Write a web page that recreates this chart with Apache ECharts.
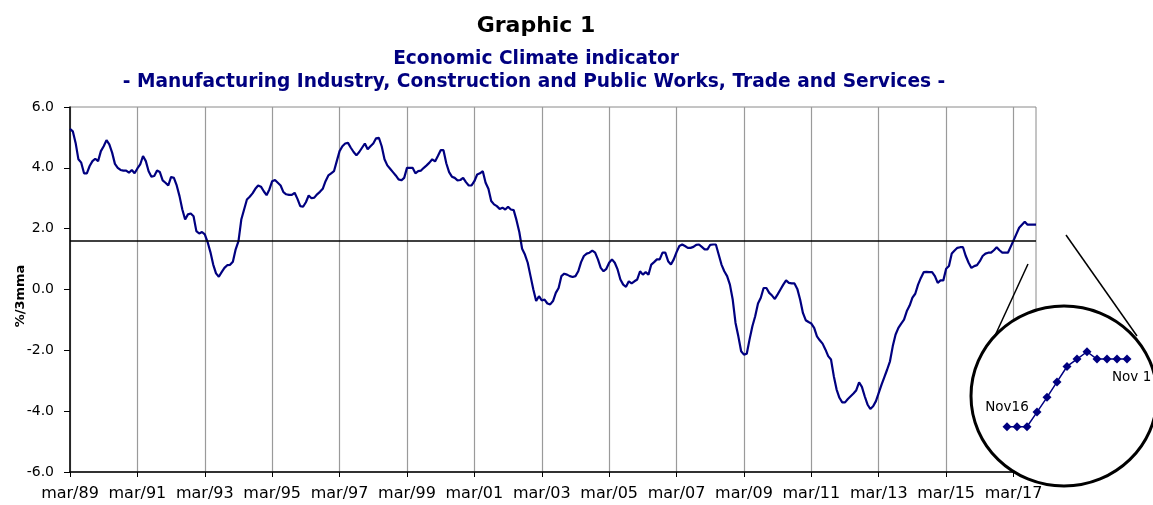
<!DOCTYPE html>
<html>
<head>
<meta charset="utf-8">
<title>Economic Climate indicator</title>
<script src="https://cdn.jsdelivr.net/npm/echarts@6/dist/echarts.min.js"></script>
<style>
  html, body { margin: 0; padding: 0; background: #fff; }
  #chart { width: 1153px; height: 505px; }
</style>
</head>
<body>
<div id="chart"></div>
<script>
// Economic climate indicator, %/3mma, monthly from mar/89 to nov/17 (one row per year)
const indicator = [
  5.28, 5.2, 4.82, 4.28, 4.17, 3.82, 3.82, 4.06, 4.22, 4.3,              // 1989 (mar-dec)
  4.22, 4.55, 4.71, 4.91, 4.77, 4.5, 4.13, 4.0, 3.93, 3.91, 3.91, 3.84,   // 1990
  3.93, 3.82, 3.98, 4.11, 4.39, 4.22, 3.89, 3.71, 3.73, 3.91, 3.86, 3.59, // 1991
  3.51, 3.42, 3.7, 3.67, 3.42, 3.07, 2.63, 2.3, 2.47, 2.5, 2.41, 1.92,    // 1992
  1.84, 1.89, 1.81, 1.56, 1.23, 0.82, 0.53, 0.42, 0.57, 0.71, 0.8, 0.81,  // 1993
  0.91, 1.32, 1.59, 2.3, 2.63, 2.96, 3.05, 3.16, 3.31, 3.42, 3.38, 3.23,  // 1994
  3.1, 3.29, 3.56, 3.6, 3.51, 3.42, 3.2, 3.13, 3.11, 3.11, 3.18, 2.98,    // 1995
  2.74, 2.72, 2.87, 3.09, 3.0, 3.02, 3.13, 3.21, 3.31, 3.56, 3.75, 3.82,  // 1996
  3.89, 4.22, 4.55, 4.71, 4.8, 4.82, 4.66, 4.52, 4.41, 4.52, 4.66, 4.8,   // 1997
  4.61, 4.71, 4.8, 4.97, 4.99, 4.71, 4.28, 4.08, 3.97, 3.86, 3.75, 3.62,  // 1998
  3.59, 3.67, 4.0, 4.0, 4.0, 3.82, 3.89, 3.91, 4.0, 4.08, 4.17, 4.28,     // 1999
  4.21, 4.39, 4.58, 4.58, 4.15, 3.86, 3.71, 3.67, 3.59, 3.6, 3.67, 3.53,  // 2000
  3.42, 3.42, 3.56, 3.78, 3.82, 3.89, 3.51, 3.31, 2.91, 2.8, 2.74, 2.65,  // 2001
  2.69, 2.63, 2.72, 2.63, 2.61, 2.28, 1.89, 1.34, 1.15, 0.88, 0.44, 0.0,  // 2002
  -0.38, -0.22, -0.36, -0.33, -0.46, -0.49, -0.38, -0.11, 0.05, 0.44, 0.52, 0.49, // 2003
  0.44, 0.41, 0.44, 0.6, 0.9, 1.1, 1.18, 1.21, 1.28, 1.21, 0.99, 0.71,    // 2004
  0.6, 0.68, 0.88, 0.99, 0.88, 0.66, 0.33, 0.16, 0.09, 0.27, 0.2, 0.27,   // 2005
  0.33, 0.6, 0.49, 0.57, 0.49, 0.82, 0.9, 0.99, 0.99, 1.21, 1.21, 0.93,   // 2006
  0.82, 0.99, 1.23, 1.43, 1.48, 1.43, 1.37, 1.37, 1.4, 1.47, 1.48, 1.4,   // 2007
  1.32, 1.32, 1.47, 1.48, 1.48, 1.15, 0.82, 0.6, 0.44, 0.16, -0.33, -1.1, // 2008
  -1.54, -2.03, -2.14, -2.11, -1.64, -1.21, -0.88, -0.46, -0.27, 0.05, 0.05, -0.11, // 2009
  -0.2, -0.31, -0.16, 0.0, 0.16, 0.3, 0.22, 0.2, 0.2, 0.02, -0.33, -0.77, // 2010
  -1.01, -1.07, -1.12, -1.26, -1.54, -1.67, -1.78, -1.97, -2.19, -2.3, -2.85, -3.29, // 2011
  -3.56, -3.71, -3.71, -3.6, -3.51, -3.42, -3.31, -3.05, -3.2, -3.51, -3.78, -3.93,  // 2012
  -3.84, -3.67, -3.4, -3.13, -2.88, -2.63, -2.36, -1.86, -1.48, -1.26, -1.12, -0.99, // 2013
  -0.71, -0.53, -0.27, -0.14, 0.16, 0.38, 0.57, 0.58, 0.57, 0.57, 0.44, 0.22,       // 2014
  0.3, 0.3, 0.68, 0.77, 1.18, 1.28, 1.37, 1.39, 1.39, 1.1, 0.88, 0.71,    // 2015
  0.77, 0.8, 0.93, 1.1, 1.18, 1.21, 1.21, 1.29, 1.39, 1.29, 1.21, 1.21,   // 2016
  1.21, 1.41, 1.61, 1.82, 2.03, 2.13, 2.23, 2.13, 2.13, 2.13, 2.13        // 2017 (jan-nov)
];

// horizontal reference level (long-run average)
const avgLevel = 1.6;

// month categories: mar/89 ... nov/17
const monthNames = ['jan', 'feb', 'mar', 'apr', 'may', 'jun', 'jul', 'aug', 'sep', 'oct', 'nov', 'dec'];
const firstYear = 1989, firstMonth = 2;
const months = indicator.map((v, i) => {
  let k = firstMonth + i;
  let yy = String((firstYear + Math.floor(k / 12)) % 100).padStart(2, '0');
  return monthNames[k % 12] + '/' + yy;
});

// zoomed inset: last 13 months (Nov16 - Nov17)
const insetCount = 13;
const insetMonths = months.slice(-insetCount);
const insetValues = indicator.slice(-insetCount);
const insetStartLabel = 'Nov16';
const insetEndLabel = 'Nov 17';

const titleText = 'Graphic 1';
const subText1 = 'Economic Climate indicator';
const subText2 = '- Manufacturing Industry, Construction and Public Works, Trade and Services -';
const yName = '%/3mma';

const FONT = '"DejaVu Sans", Verdana, sans-serif';
const NAVY = '#000080';

function txt (x, y, text, font, color, align, extra) {
  return Object.assign({
    type: 'text', x: x, y: y, z: 30,
    style: {
      text: text, font: font, fill: color,
      align: align, textAlign: align,
      verticalAlign: 'middle', textVerticalAlign: 'middle'
    }
  }, extra || {});
}

const chart = echarts.init(document.getElementById('chart'));

const option = {
  animation: false,
  backgroundColor: '#fff',
  grid: [
    { left: 70, right: 117, top: 107, bottom: 33, show: true, borderColor: '#8a8a8a', borderWidth: 1 },
    { left: 1007, top: 340, width: 120, height: 100, show: false }
  ],
  xAxis: [
    {
      type: 'category', gridIndex: 0, data: months, boundaryGap: false,
      axisLine: { onZero: false, lineStyle: { color: '#000', width: 1.5 } },
      axisTick: { show: true, interval: 23, length: 5, lineStyle: { color: '#000' } },
      axisLabel: { interval: 23, margin: 14, color: '#000', fontSize: 16, fontFamily: FONT },
      splitLine: { show: true, interval: 23, lineStyle: { color: '#9a9a9a', width: 1.2 } }
    },
    { type: 'category', gridIndex: 1, data: insetMonths, boundaryGap: false, show: false }
  ],
  yAxis: [
    {
      type: 'value', gridIndex: 0, min: -6, max: 6, interval: 2,
      axisLine: { show: true, lineStyle: { color: '#000', width: 1.5 } },
      axisTick: { show: true, length: 6, lineStyle: { color: '#000' } },
      axisLabel: { margin: 16, color: '#000', fontSize: 14, fontFamily: FONT, formatter: v => v.toFixed(1) },
      splitLine: { show: false }
    },
    { type: 'value', gridIndex: 1, min: 1.03, max: 2.39, show: false }
  ],
  series: [
    {
      type: 'line', xAxisIndex: 0, yAxisIndex: 0, data: indicator,
      symbol: 'none', showSymbol: false,
      lineStyle: { color: NAVY, width: 2.2 },
      markLine: {
        silent: true, symbol: 'none', label: { show: false },
        lineStyle: { color: '#000', width: 1.6, type: 'solid' },
        data: [{ yAxis: avgLevel }]
      }
    },
    {
      type: 'line', xAxisIndex: 1, yAxisIndex: 1, data: insetValues, z: 20,
      symbol: 'diamond', symbolSize: 9, showSymbol: true, showAllSymbol: true,
      lineStyle: { color: NAVY, width: 1.5 },
      itemStyle: { color: NAVY }
    }
  ],
  graphic: [
    txt(536, 26, titleText, 'bold 22px ' + FONT, '#000', 'center'),
    txt(536, 59, subText1, 'bold 18.6px ' + FONT, NAVY, 'center'),
    txt(534, 82, subText2, 'bold 18.6px ' + FONT, NAVY, 'center'),
    txt(21, 296, yName, 'bold 13px ' + FONT, '#000', 'center', { rotation: Math.PI / 2 }),
    // connector lines of the zoom circle
    { type: 'line', z: 9, shape: { x1: 1028, y1: 264, x2: 993, y2: 340 }, style: { stroke: '#000', lineWidth: 1.5 } },
    { type: 'line', z: 9, shape: { x1: 1066, y1: 235, x2: 1137, y2: 336 }, style: { stroke: '#000', lineWidth: 1.5 } },
    { type: 'ellipse', z: 10, shape: { cx: 1064, cy: 396, rx: 93, ry: 90 }, style: { fill: '#fff', stroke: '#000', lineWidth: 3 } },
    txt(1007, 407, insetStartLabel, '13.5px ' + FONT, '#000', 'center'),
    txt(1112, 377, insetEndLabel, '13.5px ' + FONT, '#000', 'left')
  ]
};

chart.setOption(option);
</script>
</body>
</html>
